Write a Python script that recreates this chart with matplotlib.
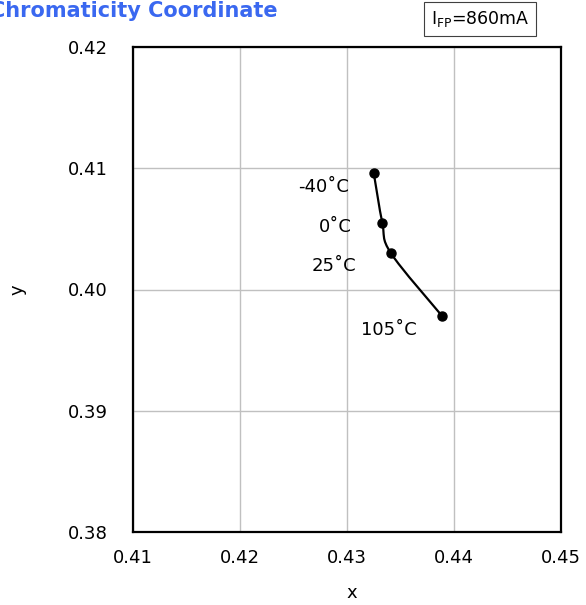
import matplotlib.pyplot as plt
from matplotlib.path import Path
from matplotlib.patches import PathPatch
import numpy as np

# chromaticity points at each temperature
temps = ['-40˚C', '0˚C', '25˚C', '105˚C']
cx = [0.4325, 0.4333, 0.4341, 0.4389]
cy = [0.4096, 0.4055, 0.4030, 0.3978]

xticks = [0.41, 0.42, 0.43, 0.44, 0.45]
yticks = [0.38, 0.39, 0.40, 0.41, 0.42]


def smooth_path(x, y, t=1/6):
    # catmull-rom style bezier through the points (like a smoothed line)
    p = np.column_stack([x, y])
    verts = [p[0]]
    codes = [Path.MOVETO]
    n = len(p)
    for i in range(n - 1):
        p0 = p[i - 1] if i > 0 else p[i]
        p3 = p[i + 2] if i + 2 < n else p[i + 1]
        c1 = p[i] + (p[i + 1] - p0) * t
        c2 = p[i + 1] - (p3 - p[i]) * t
        verts += [c1, c2, p[i + 1]]
        codes += [Path.CURVE4] * 3
    return Path(verts, codes)


fig = plt.figure(figsize=(5.86, 6.05), dpi=100)
ax = fig.add_axes([133/586, 1-532/605, (561-133)/586, (532-47)/605])

ax.set_xlim(0.41, 0.45)
ax.set_ylim(0.38, 0.42)
ax.set_xticks(xticks)
ax.set_yticks(yticks)
ax.set_xticklabels(['%.2f' % v for v in xticks])
ax.set_yticklabels(['%.2f' % v for v in yticks])
ax.tick_params(length=0, labelsize=13)
ax.tick_params(axis='y', pad=18)
ax.tick_params(axis='x', pad=12)
ax.grid(True, color='#c0c0c0', lw=1)
ax.set_axisbelow(True)
for s in ax.spines.values():
    s.set_linewidth(1.6)

ax.add_patch(PathPatch(smooth_path(cx, cy), fill=False, lw=1.6, color='black'))
ax.plot(cx, cy, 'o', color='black', ms=6.5, zorder=3)

# label offsets in pixels from each point
offsets = [(-25, -14, 'right'), (-47, -4, 'center'), (-57, -13, 'center'), (-53, -14, 'center')]
for lab, x, y, (dx, dy, ha) in zip(temps, cx, cy, offsets):
    ax.annotate(lab, (x, y), xytext=(dx, dy), textcoords='offset pixels',
                ha=ha, va='center', fontsize=13)

ax.set_xlabel('x', fontsize=13)
ax.set_ylabel('y', fontsize=13, rotation=90)
ax.xaxis.set_label_coords((352-133)/428, -(584-532)/485)
ax.yaxis.set_label_coords(-(133-27)/428, (532-290)/485)

fig.text(278/586, 1-11/605, 'Chromaticity Coordinate', ha='right', va='center',
         fontsize=15, fontweight='bold', color='#3a68f0')
fig.text(480/586, 1-19/605, r'I$_{\rm FP}$=860mA', ha='center', va='center',
         fontsize=12.5,
         bbox=dict(boxstyle='square,pad=0.38', fc='white', ec='#404040', lw=0.8))

fig.savefig('out.png', dpi=100)
